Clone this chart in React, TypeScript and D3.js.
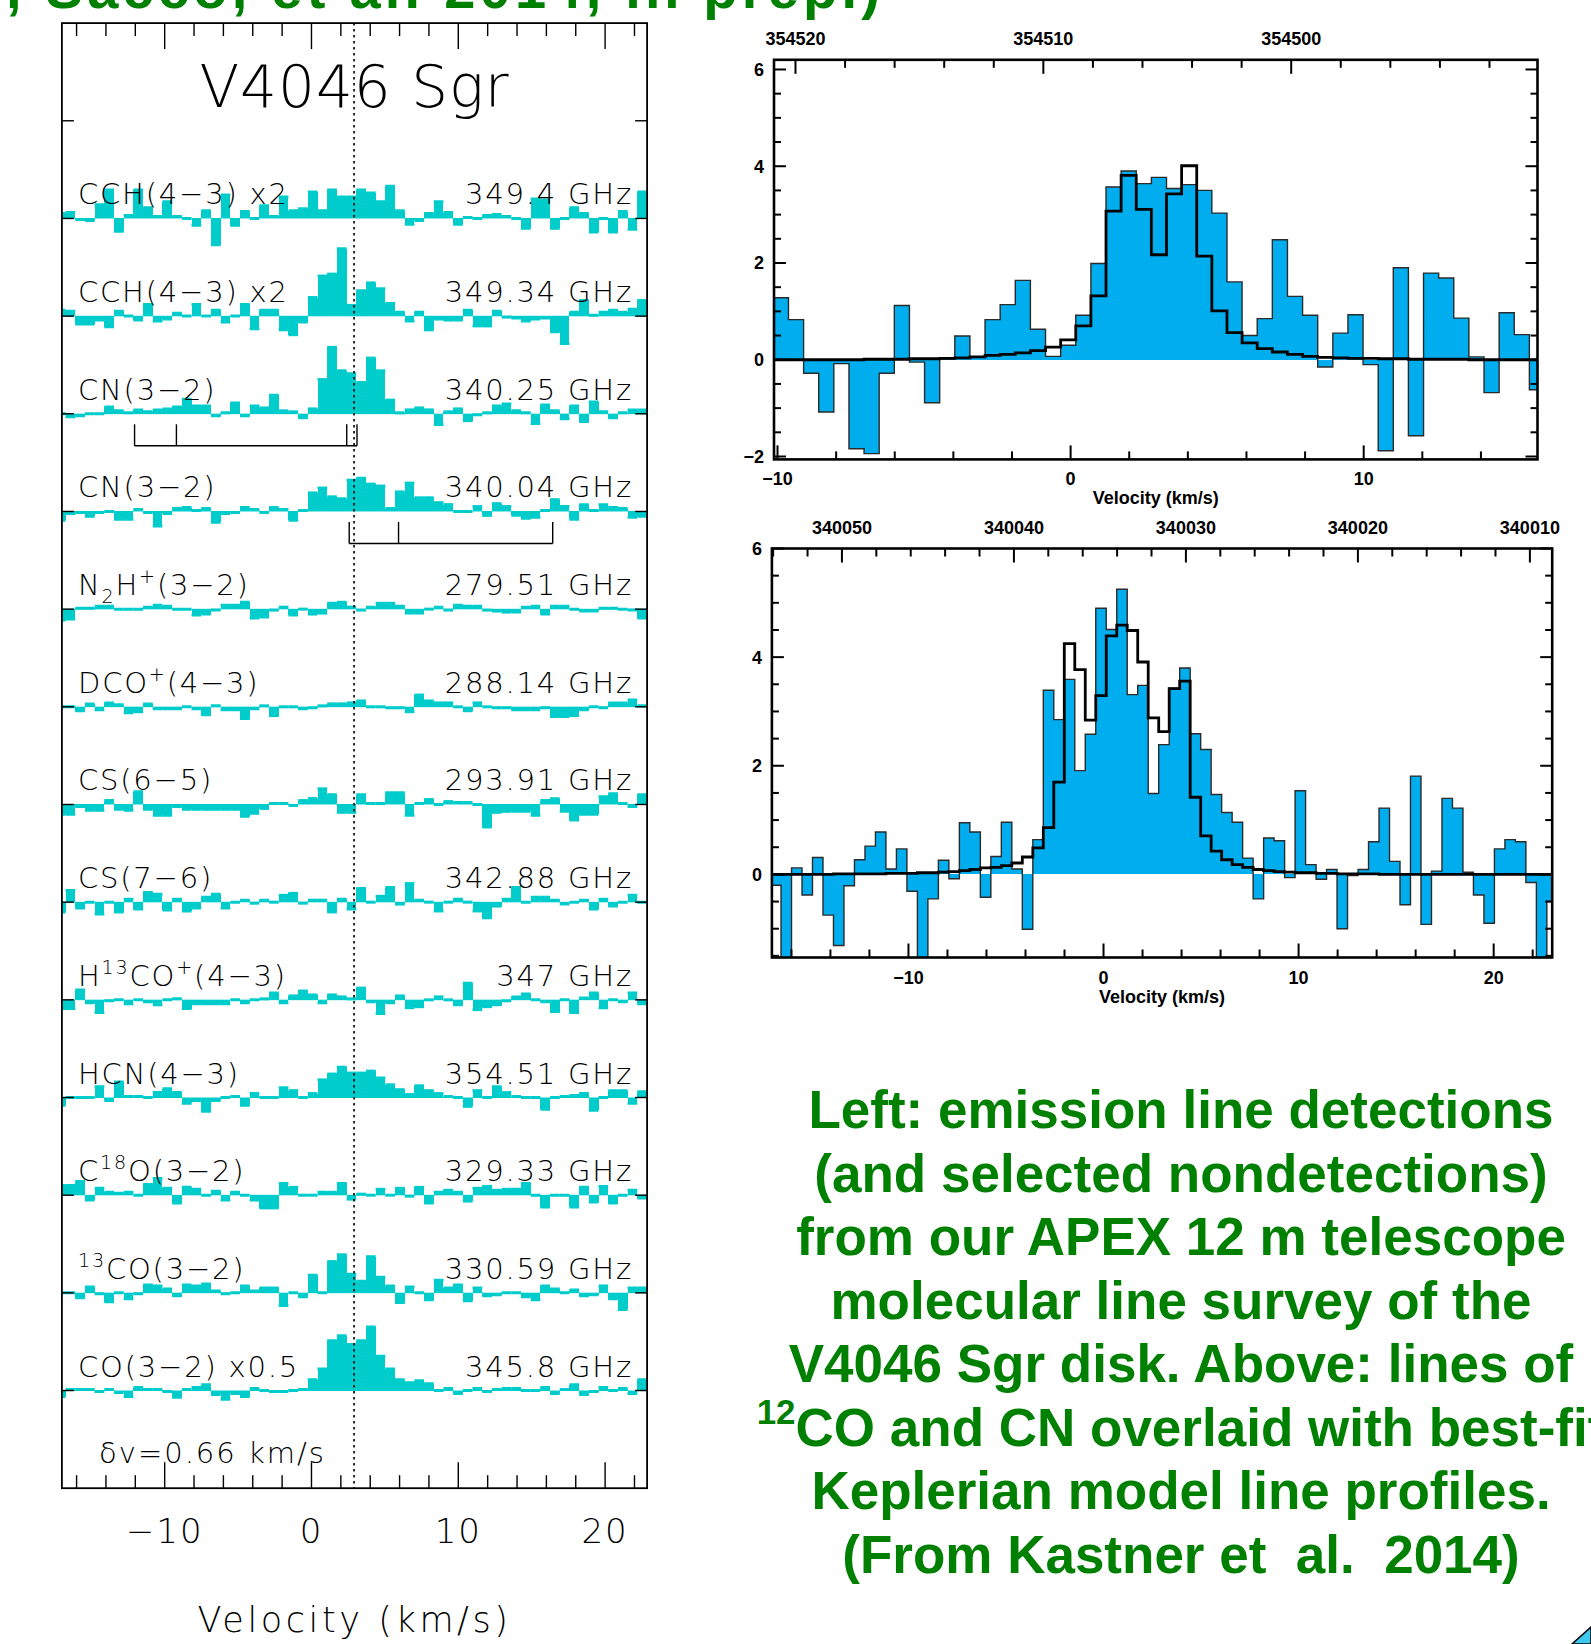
import React from "react";
import * as d3 from "d3";

const W = 1591;
const H = 1644;
const C_KMS = 299792.458;

// ---- left stack: APEX spectra, 0.66 km/s channels (arbitrary units, 100 = one row) ----
const DV_STACK = 0.66;
const V0_STACK = -17.41; // left edge of first channel
const V_SYS = 2.9;

const cch1 = [5, 6, -1, -2, 14, 29, -13, 3, 29, 11, 2, 17, 2, 0, -7, 8, -27, 24, -7, 7, 0, 13, 2, 22, 8, 10, 27, 8, 29, 22, 22, 29, 26, 17, 33, 8, -6, -2, 5, 17, 6, -6, 1, 0, 3, 4, 2, 0, -10, 20, 19, -10, 0, 11, 5, -14, 0, -14, 7, -11, 27];
const cch2 = [6, 5, -8, -8, -4, -11, 5, 0, -4, 12, -5, -3, 3, 0, 12, 0, 6, -6, 0, 12, -13, 6, 6, -14, -19, -6, 19, 41, 43, 69, 11, 26, 34, 28, 13, 4, -5, 4, -14, -3, -4, -4, 6, -10, -10, 5, -1, -2, -5, -3, -2, -16, -28, 4, 16, 1, 4, 6, 4, 7, 16];
const cnA = [0, -3, -2, 0, 0, 7, 3, 1, 4, 2, 4, 5, 7, 15, 8, 8, -2, 1, 11, -2, 8, 6, 19, 3, 2, -4, 5, 35, 68, 44, 41, 32, 57, 44, 14, 1, 4, 6, 4, -11, 2, 5, -7, -1, 1, 8, 10, 3, 1, -10, 9, 3, -5, 8, -8, 12, 2, -4, 1, 4, 4];
const cnB = [-9, -2, -1, -5, -1, 0, -8, -8, 2, -1, -15, -2, 3, 4, 1, 3, -11, -2, -1, 4, 2, -1, 4, 2, -9, 1, 19, 24, 15, 13, 32, 34, 28, 26, 3, 20, 29, 14, 14, 9, 7, 0, 0, 5, -4, 8, 5, -4, -7, -6, 1, 12, 5, -8, 7, 1, 7, 4, 3, -6, -5];
const n2hp = [-11, -10, 1, 1, 3, 3, 0, 0, 0, 2, 4, 3, 0, 0, -6, -5, -1, 4, 4, 7, -9, -8, -1, 2, -6, 0, -5, -4, 6, 7, 2, -1, 2, 6, 6, 3, -4, -4, 0, 2, -1, 4, 3, 3, -1, -2, -3, -3, 2, 3, -5, 3, 3, 0, -2, -2, 1, 1, 0, -1, -9];
const dcop = [0, 0, -4, 3, -3, 4, 2, -6, -5, 3, -2, -2, -2, 0, -2, -8, 1, -3, -3, -12, -2, 1, -9, 0, 0, -2, -1, 1, 3, 3, 4, 6, 0, 0, -1, -1, -5, 12, 6, 4, 4, 0, -4, 4, 0, -1, -1, -3, -3, -3, -1, -10, -10, -9, -3, 0, -1, 4, 4, 7, 1];
const cs65 = [-10, -10, -2, -6, -6, 4, -5, -6, 13, -5, -11, -11, -2, -5, -5, -5, -5, -5, -5, -12, -9, -4, 1, 1, -1, 4, 6, 16, 10, -8, -8, 10, 1, 1, 12, 12, -11, 1, 5, 0, 3, 2, 2, 0, -23, -8, -7, -7, -7, -11, 4, 6, -7, -16, -10, -10, 8, 11, 1, -2, 10];
const cs76 = [-10, 12, -6, 0, -12, 0, -10, 3, -7, 10, 8, -8, 3, -9, -6, 5, 8, -6, 0, 2, -1, 2, 0, 7, 9, -1, 2, 2, -10, 3, -7, 14, 0, 6, 15, -2, 19, 2, 0, -9, 0, 3, 0, -9, -16, -4, 3, 15, 0, 5, 5, 2, -2, 0, 2, -7, 3, -4, 0, 7, 0];
const h13cop = [-9, -9, 10, -3, -13, -1, 0, -4, 0, -2, -5, 0, 1, -9, -4, -4, -4, -4, 0, -3, 0, 1, 7, -3, 4, 9, 5, -3, 5, 3, 1, 12, -2, -14, -3, 4, -8, -7, 0, 3, 0, -5, 17, -10, -7, -5, -1, 3, 6, 0, -2, -12, 0, -13, 2, 7, -8, 0, -2, 7, -4];
const hcn = [-8, 0, 0, 0, 11, -3, 16, 1, 1, 0, 5, 9, 5, -6, -3, -14, -3, 0, 1, -8, 4, 0, 0, 10, 7, 0, 4, 18, 24, 31, 25, 25, 27, 20, 13, 8, 3, 12, 7, 4, 1, 0, -9, 7, 0, 11, 5, 1, 0, 0, -12, 0, 1, 2, 4, -13, 0, 7, 7, -6, 6];
const c18o = [10, 10, 14, -5, 7, 3, 2, 3, 0, 11, 17, 7, -8, 8, 6, 0, 4, -5, 3, 0, -5, -13, -13, 12, 8, 0, 0, 3, 3, 12, -4, 1, 0, 6, 0, 7, -1, 8, -8, 3, 5, 3, -6, 7, 9, 5, 6, 6, 12, 0, -12, 0, 0, -12, 8, -7, 9, -8, 0, 5, -3];
const co13 = [0, 0, -5, 6, -1, -9, 0, -6, -1, 8, 7, 4, -3, 8, 7, 9, 2, -1, 0, 7, 2, 5, 5, -13, 0, -4, 18, 0, 32, 39, 19, 12, 37, 16, 7, -10, 6, 0, -7, 13, 5, 8, -8, 5, -3, -2, 0, 0, -4, -7, 7, 4, 0, 3, -3, -2, 7, -6, -17, 5, 5];
const co12 = [-6, 1, 1, 1, -1, 1, -2, -6, 3, 1, 1, -1, -7, 1, 3, 6, -4, -9, -3, -6, 2, 0, -1, -1, 0, 1, 11, 22, 51, 56, 47, 51, 65, 35, 22, 11, 8, 10, 7, 0, 2, -3, 0, 2, -1, 1, 2, 2, 0, 0, 3, -3, 1, 6, -4, -1, 3, 0, 2, -3, 11];

const stackSpectra = [cch1, cch2, cnA, cnB, n2hp, dcop, cs65, cs76, h13cop, hcn, c18o, co13, co12];
const stackNames = ["CCH(4−3) x2", "CCH(4−3) x2", "CN(3−2)", "CN(3−2)", "N_{2}H^{+}(3−2)", "DCO^{+}(4−3)", "CS(6−5)", "CS(7−6)", "H^{13}CO^{+}(4−3)", "HCN(4−3)", "C^{18}O(3−2)", "^{13}CO(3−2)", "CO(3−2) x0.5"];
const stackFreqs = ["349.4 GHz", "349.34 GHz", "340.25 GHz", "340.04 GHz", "279.51 GHz", "288.14 GHz", "293.91 GHz", "342.88 GHz", "347 GHz", "354.51 GHz", "329.33 GHz", "330.59 GHz", "345.8 GHz"];
const stackTickLabels = [-10, 0, 10, 20];

// CN hyperfine groups (km/s), drawn under rows 3 and 4
const cnHfsA = [-12.05, -9.2, 2.4, 3.1];
const cnHfsB = [2.57, 5.93, 16.43];

// ---- right: observed spectrum + Keplerian model (K), 0.61 MHz channels ----
const topV0 = -10.142;
const topDv = 0.5159;
const topF0 = 354508.9;
const topObs = [1.28, 0.83, -0.28, -1.08, -0.08, -1.84, -1.94, -0.28, 1.12, -0.05, -0.89, 0.02, 0.49, 0.05, 0.83, 1.14, 1.64, 0.63, 0.07, 0.3, 0.92, 1.99, 3.57, 3.9, 3.64, 3.77, 3.54, 3.62, 3.5, 3.03, 1.61, 0.5, 0.85, 2.48, 1.31, 0.92, -0.15, 0.55, 0.93, -0.1, -1.88, 1.9, -1.57, 1.79, 1.69, 0.86, 0.06, -0.68, 0.97, 0.52, -0.62];
const topModel = [0, 0, 0, 0, 0, 0, 0.01, 0.01, 0.01, 0.02, 0.02, 0.03, 0.04, 0.06, 0.09, 0.11, 0.14, 0.19, 0.26, 0.41, 0.7, 1.32, 3.07, 3.81, 3.11, 2.17, 3.43, 4.01, 2.14, 1.01, 0.56, 0.35, 0.23, 0.16, 0.11, 0.07, 0.05, 0.04, 0.03, 0.03, 0.02, 0.02, 0.01, 0.01, 0.01, 0.01, 0, 0, 0, 0, 0];

const botV0 = -17.07;
const botDv = 0.5378;
const botF0 = 340034.79;
const botObs = [-0.2, -1.6, 0.12, -0.38, 0.31, -0.75, -1.31, -0.21, 0.27, 0.52, 0.78, 0.1, 0.47, -0.31, -1.6, -0.45, 0.26, -0.08, 0.95, 0.78, -0.42, 0.33, 0.96, 0.1, -1.01, 0.64, 3.39, 2.85, 3.59, 1.91, 2.58, 4.9, 4.51, 5.25, 3.31, 3.48, 1.49, 2.39, 3.43, 3.8, 2.59, 2.3, 1.47, 1.14, 0.96, 0.3, -0.45, 0.67, 0.62, -0.06, 1.54, 0.18, -0.09, 0.09, -1.0, -0.02, 0.09, 0.6, 1.22, 0.24, -0.56, 1.81, -0.92, 0.06, 1.4, 1.22, 0.04, -0.38, -0.9, 0.47, 0.64, 0.6, -0.15, -1.6, -0.5];
const botModel = [0, 0, 0, 0, 0, 0, 0.01, 0.01, 0.01, 0.01, 0.01, 0.02, 0.02, 0.02, 0.03, 0.03, 0.04, 0.05, 0.07, 0.09, 0.12, 0.13, 0.16, 0.21, 0.32, 0.49, 0.86, 1.7, 4.25, 3.77, 2.84, 3.29, 4.39, 4.59, 4.49, 3.91, 2.88, 2.63, 3.42, 3.56, 1.42, 0.71, 0.43, 0.27, 0.18, 0.13, 0.09, 0.07, 0.05, 0.04, 0.03, 0.03, 0.02, 0.02, 0.01, 0.01, 0.01, 0.01, 0, 0, 0, 0, 0, 0, 0, 0, 0, 0, 0, 0, 0, 0, 0, 0, 0];

const captionLines = [
  "Left: emission line detections",
  "(and selected nondetections)",
  "from our APEX 12 m telescope",
  "molecular line survey of the",
  "V4046 Sgr disk. Above: lines of",
  "^{12}CO and CN overlaid with best-fit",
  "Keplerian model line profiles.",
  "(From Kastner et  al.  2014)",
];
const creditLine = ", Sacco, et al. 2014, in prep.)";

const TEAL = "#00CCCC";
const BLUE = "#00AEEF";
const GREEN = "#008000";
const THIN = "DejaVu Sans, sans-serif";
const ARIAL = "Liberation Sans, Arial, sans-serif";

// "^{..}" superscript, "_{..}" subscript
function rich(label: string, fs: number) {
  const parts = label.split(/(\^\{[^}]*\}|_\{[^}]*\})/).filter(Boolean);
  let shift = 0;
  return parts.map((p, i) => {
    let target = 0;
    let size = fs;
    let text = p;
    if (p.startsWith("^{")) {
      target = -0.42 * fs;
      size = fs * 0.66;
      text = p.slice(2, -1);
    } else if (p.startsWith("_{")) {
      target = 0.26 * fs;
      size = fs * 0.66;
      text = p.slice(2, -1);
    }
    const dy = target - shift;
    shift = target;
    return (
      <tspan key={i} dy={dy} fontSize={size}>
        {text}
      </tspan>
    );
  });
}

function stepPath(vals: number[], v0: number, dv: number, x: any, y: any) {
  const pts: [number, number][] = vals.map((t, i) => [v0 + i * dv, t]);
  pts.push([v0 + vals.length * dv, vals[vals.length - 1]]);
  return d3
    .line<[number, number]>()
    .x((d) => x(d[0]))
    .y((d) => y(d[1]))
    .curve(d3.curveStepAfter)(pts) as string;
}

function LeftStack() {
  const box = { x0: 61.9, x1: 647.1, y0: 23.1, y1: 1488.2 };
  const x = d3.scaleLinear().domain([-17, 22.86]).range([box.x0, box.x1]);
  // stack offset: row k sits at k*100, value goes up
  const y = d3.scaleLinear().domain([-100, 1400]).range([box.y0, box.y1]);
  const vTicks = d3.range(-16, 23, 2);

  const hfs = (vs: number[], k: number) => {
    const yb = y(k * 100);
    const top = yb + 10.5;
    const bot = yb + 32;
    return (
      <g stroke="#000" strokeWidth={1.4}>
        {vs.map((v, i) => (
          <line key={i} x1={x(v)} x2={x(v)} y1={top} y2={bot} />
        ))}
        <line x1={x(d3.min(vs)!)} x2={x(d3.max(vs)!)} y1={bot} y2={bot} />
      </g>
    );
  };

  return (
    <g>
      <defs>
        <clipPath id="stackClip">
          <rect x={box.x0} y={box.y0} width={box.x1 - box.x0} height={box.y1 - box.y0} />
        </clipPath>
      </defs>
      <g clipPath="url(#stackClip)">
        {stackSpectra.map((spec, r) => {
          const k = r + 1;
          const yb = y(k * 100);
          return (
            <g key={r}>
              <line x1={box.x0} x2={box.x1} y1={yb} y2={yb} stroke="#7fe6e6" strokeWidth={1} />
              {spec.map((val, i) => {
                const xa = x(V0_STACK + i * DV_STACK);
                const xb = x(V0_STACK + (i + 1) * DV_STACK);
                const yv = y(k * 100 - val);
                return (
                  <g key={i}>
                    <rect
                      x={xa}
                      y={Math.min(yb, yv)}
                      width={xb - xa}
                      height={Math.abs(yv - yb)}
                      fill={TEAL}
                      shapeRendering="crispEdges"
                    />
                    <line x1={xa} x2={xb} y1={yv} y2={yv} stroke={TEAL} strokeWidth={3} />
                  </g>
                );
              })}
            </g>
          );
        })}
      </g>

      {hfs(cnHfsA, 3)}
      {hfs(cnHfsB, 4)}

      <line
        x1={x(V_SYS)}
        x2={x(V_SYS)}
        y1={box.y0}
        y2={box.y1}
        stroke="#000"
        strokeWidth={1.6}
        strokeDasharray="2.5 3.5"
      />

      <rect x={box.x0} y={box.y0} width={box.x1 - box.x0} height={box.y1 - box.y0} fill="none" stroke="#000" strokeWidth={1.8} />
      <g stroke="#000" strokeWidth={1.4}>
        {vTicks.map((v) => {
          const len = v % 10 === 0 ? 26 : 13;
          return (
            <g key={v}>
              <line x1={x(v)} x2={x(v)} y1={box.y0} y2={box.y0 + len} />
              <line x1={x(v)} x2={x(v)} y1={box.y1} y2={box.y1 - len} />
            </g>
          );
        })}
        {d3.range(0, 14).map((k) => (
          <g key={k}>
            <line x1={box.x0} x2={box.x0 + 12} y1={y(k * 100)} y2={y(k * 100)} />
            <line x1={box.x1} x2={box.x1 - 12} y1={y(k * 100)} y2={y(k * 100)} />
          </g>
        ))}
      </g>

      <g fontFamily={THIN} fontWeight={200} fill="#000">
        <text x={(box.x0 + box.x1) / 2} y={107} fontSize={58} textAnchor="middle" letterSpacing={1}>
          V4046 Sgr
        </text>
        {stackNames.map((name, r) => {
          const yb = y((r + 1) * 100) - 14;
          return (
            <g key={r} fontSize={29} letterSpacing={1.8}>
              <text x={78} y={yb}>
                {rich(name, 29)}
              </text>
              <text x={633} y={yb} textAnchor="end">
                {stackFreqs[r]}
              </text>
            </g>
          );
        })}
        <text x={99} y={1463} fontSize={29} letterSpacing={2}>
          δv=0.66 km/s
        </text>
        {stackTickLabels.map((v) => (
          <text key={v} x={x(v)} y={1543} fontSize={34} textAnchor="middle" letterSpacing={2}>
            {v < 0 ? `−${Math.abs(v)}` : v}
          </text>
        ))}
        <text x={(box.x0 + box.x1) / 2} y={1632} fontSize={35} textAnchor="middle" letterSpacing={3.6}>
          Velocity (km/s)
        </text>
      </g>
    </g>
  );
}

interface FitPanelProps {
  id: string;
  box: { x0: number; x1: number; y0: number; y1: number };
  vDom: [number, number];
  tDom: [number, number];
  v0: number;
  dv: number;
  f0: number;
  obs: number[];
  model: number[];
}

function FitPanel({ id, box, vDom, tDom, v0, dv, f0, obs, model }: FitPanelProps) {
  const x = d3.scaleLinear().domain(vDom).range([box.x0, box.x1]);
  const y = d3.scaleLinear().domain(tDom).range([box.y1, box.y0]);
  const vOfF = (f: number) => (C_KMS * (f0 - f)) / f0;
  const fHi = f0 * (1 - vDom[0] / C_KMS);
  const fLo = f0 * (1 - vDom[1] / C_KMS);
  const fTicks = d3.range(Math.ceil(fLo / 2) * 2, fHi, 2);
  const vTicks = d3.range(Math.ceil(vDom[0] / 2) * 2, vDom[1], 2);
  const tTicks = d3.range(Math.ceil(tDom[0] * 2) / 2, tDom[1] + 1e-6, 0.5);
  const tLabels = tTicks.filter((t) => Math.abs(t % 2) < 1e-6);
  const vLabels = vTicks.filter((v) => v % 10 === 0);
  const fmt = (n: number) => (n < 0 ? `−${Math.abs(n)}` : `${n}`);

  return (
    <g>
      <defs>
        <clipPath id={id}>
          <rect x={box.x0} y={box.y0} width={box.x1 - box.x0} height={box.y1 - box.y0} />
        </clipPath>
      </defs>
      <g clipPath={`url(#${id})`}>
        {obs.map((t, i) => {
          const xa = x(v0 + i * dv);
          const xb = x(v0 + (i + 1) * dv);
          return (
            <rect
              key={i}
              x={xa}
              y={Math.min(y(0), y(t))}
              width={xb - xa}
              height={Math.abs(y(t) - y(0))}
              fill={BLUE}
              shapeRendering="crispEdges"
            />
          );
        })}
        <path d={stepPath(obs, v0, dv, x, y)} fill="none" stroke="#2a2a2a" strokeWidth={1.4} />
        <path d={stepPath(model, v0, dv, x, y)} fill="none" stroke="#000" strokeWidth={2.8} />
      </g>
      <rect x={box.x0} y={box.y0} width={box.x1 - box.x0} height={box.y1 - box.y0} fill="none" stroke="#000" strokeWidth={2.6} />
      <g stroke="#000" strokeWidth={2}>
        {tTicks.map((t) => {
          const len = Math.abs(t % 2) < 1e-6 ? 12 : 7;
          return (
            <g key={t}>
              <line x1={box.x0} x2={box.x0 + len} y1={y(t)} y2={y(t)} />
              <line x1={box.x1} x2={box.x1 - len} y1={y(t)} y2={y(t)} />
            </g>
          );
        })}
        {vTicks.map((v) => (
          <line key={v} x1={x(v)} x2={x(v)} y1={box.y1} y2={box.y1 - (v % 10 === 0 ? 14 : 8)} />
        ))}
        {fTicks.map((f) => (
          <line key={f} x1={x(vOfF(f))} x2={x(vOfF(f))} y1={box.y0} y2={box.y0 + (f % 10 === 0 ? 14 : 8)} />
        ))}
      </g>
      <g fontFamily={ARIAL} fontWeight="bold" fontSize={18} fill="#000">
        {fTicks
          .filter((f) => f % 10 === 0)
          .map((f) => (
            <text key={f} x={x(vOfF(f))} y={box.y0 - 15} textAnchor="middle">
              {f}
            </text>
          ))}
        {tLabels.map((t) => (
          <text key={t} x={box.x0 - 10} y={y(t) + 6.5} textAnchor="end">
            {fmt(t)}
          </text>
        ))}
        {vLabels.map((v) => (
          <text key={v} x={x(v)} y={box.y1 + 26} textAnchor="middle">
            {fmt(v)}
          </text>
        ))}
        <text x={(box.x0 + box.x1) / 2} y={box.y1 + 45} textAnchor="middle">
          Velocity (km/s)
        </text>
      </g>
    </g>
  );
}

export default function App() {
  return (
    <svg
      width={W}
      height={H}
      viewBox={`0 0 ${W} ${H}`}
      style={{ position: "absolute", left: 0, top: 0, background: "#fff" }}
    >
      <rect width={W} height={H} fill="#fff" />
      <text
        x={6}
        y={8}
        fontFamily={ARIAL}
        fontWeight="bold"
        fontSize={56}
        fill={GREEN}
        textLength={874}
        lengthAdjust="spacing"
      >
        {creditLine}
      </text>

      <LeftStack />

      <FitPanel
        id="topClip"
        box={{ x0: 774, x1: 1537.5, y0: 59.8, y1: 459.4 }}
        vDom={[-10.12, 15.93]}
        tDom={[-2.06, 6.2]}
        v0={topV0}
        dv={topDv}
        f0={topF0}
        obs={topObs}
        model={topModel}
      />
      <FitPanel
        id="botClip"
        box={{ x0: 771.9, x1: 1552.2, y0: 548.5, y1: 957.5 }}
        vDom={[-17, 23]}
        tDom={[-1.53, 6]}
        v0={botV0}
        dv={botDv}
        f0={botF0}
        obs={botObs}
        model={botModel}
      />

      <g fontFamily={ARIAL} fontWeight="bold" fontSize={53} fill={GREEN} textAnchor="middle">
        {captionLines.map((line, i) => (
          <text key={i} x={1181} y={1128.3 + i * 63.5} style={{ whiteSpace: "pre" }}>
            {rich(line, 53)}
          </text>
        ))}
      </g>

      <polygon points={`${W},1627 ${W},${H} 1572,${H}`} fill="#3fc8f0" stroke="#000" strokeWidth={1.5} />
    </svg>
  );
}
